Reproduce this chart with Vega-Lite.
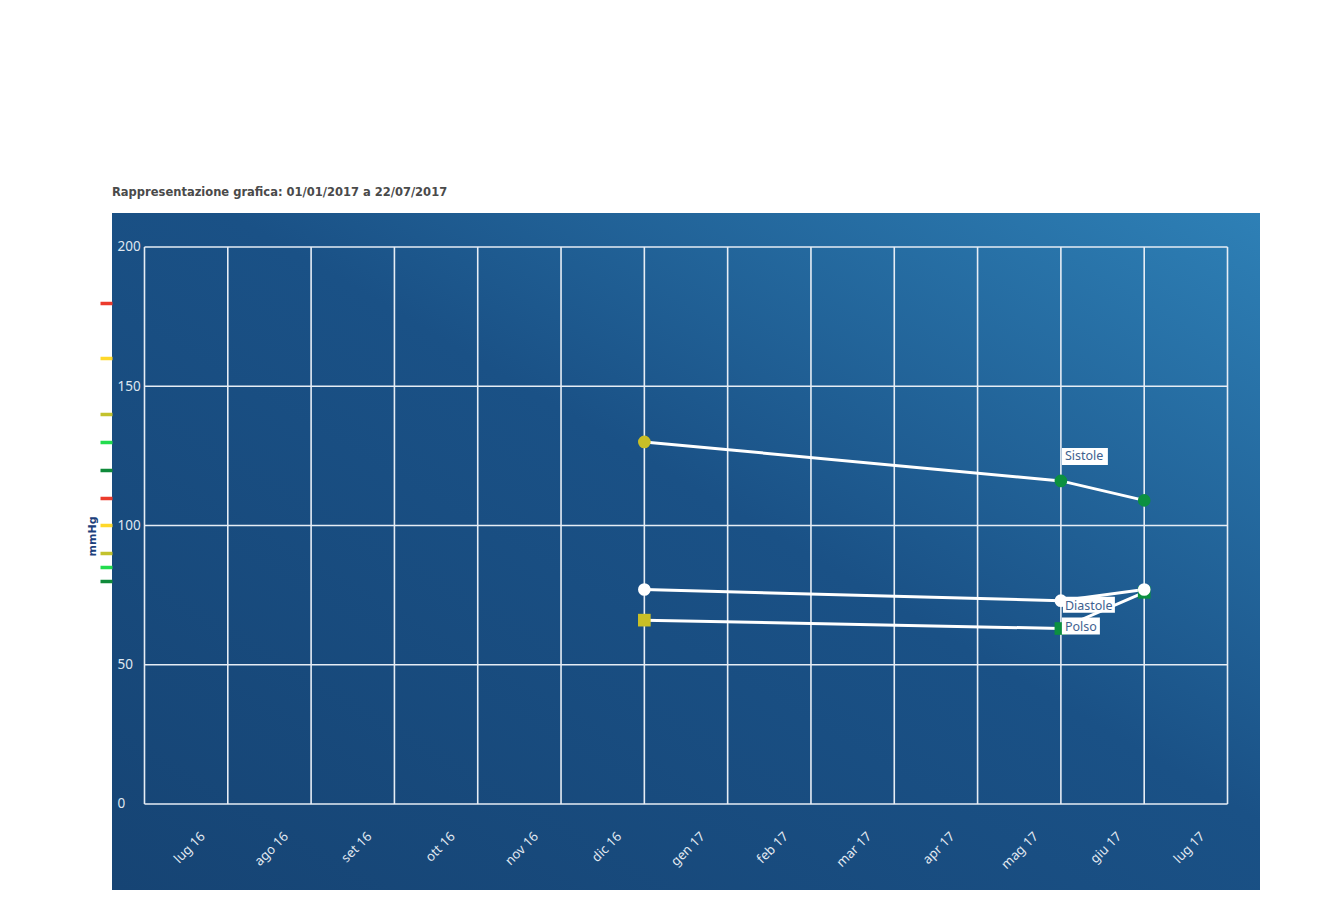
{
  "$schema": "https://vega.github.io/schema/vega-lite/v6.json",
  "width": 1148,
  "height": 677,
  "autosize": {"type": "none"},
  "padding": {"left": 112, "top": 213, "right": 78, "bottom": 24},
  "background": "#ffffff",
  "title": {
    "text": "Rappresentazione grafica: 01/01/2017 a 22/07/2017",
    "anchor": "start",
    "frame": "group",
    "font": "DejaVu Sans",
    "fontSize": 11.5,
    "fontWeight": "bold",
    "color": "#4a4a4a",
    "baseline": "alphabetic",
    "offset": 6
  },
  "config": {
    "font": "Noto Sans",
    "view": {
      "fill": {
        "gradient": "linear",
        "x1": 0, "y1": 1, "x2": 1, "y2": 0,
        "stops": [
          {"offset": 0, "color": "#164474"},
          {"offset": 0.55, "color": "#1a5186"},
          {"offset": 1, "color": "#2e80b6"}
        ]
      },
      "stroke": null
    }
  },
  "datasets": {
    "misure": [
      {"mese": "gen 17", "serie": "Polso", "valore": 66, "fascia": "attenzione"},
      {"mese": "giu 17", "serie": "Polso", "valore": 63, "fascia": "normale"},
      {"mese": "lug 17", "serie": "Polso", "valore": 76, "fascia": "normale"},
      {"mese": "gen 17", "serie": "Sistole", "valore": 130, "fascia": "attenzione"},
      {"mese": "giu 17", "serie": "Sistole", "valore": 116, "fascia": "normale"},
      {"mese": "lug 17", "serie": "Sistole", "valore": 109, "fascia": "normale"},
      {"mese": "gen 17", "serie": "Diastole", "valore": 77, "fascia": "neutra"},
      {"mese": "giu 17", "serie": "Diastole", "valore": 73, "fascia": "neutra"},
      {"mese": "lug 17", "serie": "Diastole", "valore": 77, "fascia": "neutra"}
    ],
    "mesi": [
      {"mese": "lug 16"}, {"mese": "ago 16"}, {"mese": "set 16"}, {"mese": "ott 16"},
      {"mese": "nov 16"}, {"mese": "dic 16"}, {"mese": "gen 17"}, {"mese": "feb 17"},
      {"mese": "mar 17"}, {"mese": "apr 17"}, {"mese": "mag 17"}, {"mese": "giu 17"},
      {"mese": "lug 17"}, {"mese": "ago 17"}
    ],
    "livelli": [
      {"livello": 0}, {"livello": 50}, {"livello": 100}, {"livello": 150}, {"livello": 200}
    ]
  },
  "resolve": {"axis": {"y": "independent"}},
  "layer": [
    {
      "data": {"name": "livelli"},
      "mark": {"type": "rule", "color": "#e6edf5", "strokeWidth": 1.6},
      "encoding": {
        "y": {
          "field": "livello", "type": "quantitative",
          "scale": {"domain": [-30.9, 212.2], "nice": false, "zero": false},
          "axis": {
            "orient": "left", "offset": 0,
            "values": [180, 160, 140, 130, 120, 110, 100, 90, 85, 80],
            "labels": false, "domain": false, "grid": false,
            "ticks": true, "tickSize": 12, "tickWidth": 3.5,
            "tickColor": {
              "condition": [
                {"test": "datum.value == 180 || datum.value == 110", "value": "#ec3b2c"},
                {"test": "datum.value == 160 || datum.value == 100", "value": "#ffd82a"},
                {"test": "datum.value == 140 || datum.value == 90", "value": "#c3c22c"},
                {"test": "datum.value == 130 || datum.value == 85", "value": "#22dc4e"}
              ],
              "value": "#0f8a3a"
            },
            "title": "mmHg",
            "titleColor": "#1c3f7c",
            "titleFont": "DejaVu Sans",
            "titleFontSize": 11,
            "titleFontWeight": "bold",
            "titleAngle": -90,
            "titleAlign": "center",
            "titleBaseline": "middle",
            "titleX": -20,
            "titleY": 323
          }
        },
        "x": {
          "datum": "lug 16", "type": "ordinal",
          "scale": {"type": "point", "padding": 0.39, "domain": ["lug 16", "ago 16", "set 16", "ott 16", "nov 16", "dic 16", "gen 17", "feb 17", "mar 17", "apr 17", "mag 17", "giu 17", "lug 17", "ago 17"]},
          "axis": {
            "orient": "bottom", "offset": -86, "title": null,
            "values": ["lug 16", "ago 16", "set 16", "ott 16", "nov 16", "dic 16", "gen 17", "feb 17", "mar 17", "apr 17", "mag 17", "giu 17", "lug 17"],
            "domain": false, "ticks": false, "tickSize": 0, "grid": false,
            "labelAngle": -45, "labelAlign": "right", "labelBaseline": "middle",
            "labelOffset": 58, "labelPadding": 30,
            "labelColor": "#e3eaf2", "labelFontSize": 13
          }
        },
        "x2": {"datum": "ago 17"}
      }
    },
    {
      "data": {"name": "mesi"},
      "mark": {"type": "rule", "color": "#e6edf5", "strokeWidth": 1.6},
      "encoding": {
        "x": {
          "field": "mese", "type": "ordinal",
          "scale": {"type": "point", "padding": 0.39, "domain": ["lug 16", "ago 16", "set 16", "ott 16", "nov 16", "dic 16", "gen 17", "feb 17", "mar 17", "apr 17", "mag 17", "giu 17", "lug 17", "ago 17"]},
          "axis": {
            "orient": "bottom", "offset": -86, "title": null,
            "values": ["lug 16", "ago 16", "set 16", "ott 16", "nov 16", "dic 16", "gen 17", "feb 17", "mar 17", "apr 17", "mag 17", "giu 17", "lug 17"],
            "domain": false, "ticks": false, "tickSize": 0, "grid": false,
            "labelAngle": -45, "labelAlign": "right", "labelBaseline": "middle",
            "labelOffset": 58, "labelPadding": 30,
            "labelColor": "#e3eaf2", "labelFontSize": 13
          }
        },
        "y": {
          "datum": 0, "type": "quantitative",
          "scale": {"domain": [-30.9, 212.2], "nice": false, "zero": false},
          "axis": {
            "orient": "left", "offset": -33, "title": null,
            "values": [0, 50, 100, 150, 200],
            "domain": false, "ticks": false, "tickSize": 0, "grid": false,
            "labelAlign": "left", "labelBaseline": "middle", "labelPadding": 28,
            "labelColor": "#dfe7f0", "labelFontSize": 13.5
          }
        },
        "y2": {"datum": 200}
      }
    },
    {
      "data": {"name": "misure"},
      "mark": {"type": "line", "color": "#ffffff", "strokeWidth": 3},
      "encoding": {
        "x": {"field": "mese", "type": "ordinal", "scale": {"type": "point", "padding": 0.39, "domain": ["lug 16", "ago 16", "set 16", "ott 16", "nov 16", "dic 16", "gen 17", "feb 17", "mar 17", "apr 17", "mag 17", "giu 17", "lug 17", "ago 17"]}, "sort": ["lug 16", "ago 16", "set 16", "ott 16", "nov 16", "dic 16", "gen 17", "feb 17", "mar 17", "apr 17", "mag 17", "giu 17", "lug 17", "ago 17"], "axis": {"orient": "bottom", "offset": -86, "title": null, "values": ["lug 16", "ago 16", "set 16", "ott 16", "nov 16", "dic 16", "gen 17", "feb 17", "mar 17", "apr 17", "mag 17", "giu 17", "lug 17"], "domain": false, "ticks": false, "tickSize": 0, "grid": false, "labelAngle": -45, "labelAlign": "right", "labelBaseline": "middle", "labelOffset": 58, "labelPadding": 30, "labelColor": "#e3eaf2", "labelFontSize": 13}},
        "y": {"field": "valore", "type": "quantitative", "scale": {"domain": [-30.9, 212.2], "nice": false, "zero": false}, "axis": null},
        "detail": {"field": "serie", "type": "nominal"}
      }
    },
    {
      "data": {"name": "misure"},
      "mark": {"type": "point", "filled": true, "opacity": 1, "strokeWidth": 0},
      "encoding": {
        "x": {"field": "mese", "type": "ordinal", "scale": {"type": "point", "padding": 0.39, "domain": ["lug 16", "ago 16", "set 16", "ott 16", "nov 16", "dic 16", "gen 17", "feb 17", "mar 17", "apr 17", "mag 17", "giu 17", "lug 17", "ago 17"]}, "axis": {"orient": "bottom", "offset": -86, "title": null, "values": ["lug 16", "ago 16", "set 16", "ott 16", "nov 16", "dic 16", "gen 17", "feb 17", "mar 17", "apr 17", "mag 17", "giu 17", "lug 17"], "domain": false, "ticks": false, "tickSize": 0, "grid": false, "labelAngle": -45, "labelAlign": "right", "labelBaseline": "middle", "labelOffset": 58, "labelPadding": 30, "labelColor": "#e3eaf2", "labelFontSize": 13}},
        "y": {"field": "valore", "type": "quantitative", "scale": {"domain": [-30.9, 212.2], "nice": false, "zero": false}, "axis": null},
        "shape": {"field": "serie", "type": "nominal", "scale": {"domain": ["Sistole", "Diastole", "Polso"], "range": ["circle", "circle", "square"]}, "legend": null},
        "size": {"field": "serie", "type": "nominal", "scale": {"domain": ["Sistole", "Diastole", "Polso"], "range": [160, 160, 125]}, "legend": null},
        "color": {"field": "fascia", "type": "nominal", "scale": {"domain": ["attenzione", "normale", "neutra"], "range": ["#c9bf26", "#0c9040", "#ffffff"]}, "legend": null}
      }
    },
    {
      "data": {"name": "misure"},
      "transform": [{"filter": "datum.serie == 'Sistole' && datum.mese == 'giu 17'"}],
      "mark": {"type": "rect", "color": "#ffffff", "width": 46, "height": 17, "xOffset": 24, "yOffset": -24.5},
      "encoding": {
        "x": {"field": "mese", "type": "ordinal", "scale": {"type": "point", "padding": 0.39, "domain": ["lug 16", "ago 16", "set 16", "ott 16", "nov 16", "dic 16", "gen 17", "feb 17", "mar 17", "apr 17", "mag 17", "giu 17", "lug 17", "ago 17"]}, "axis": {"orient": "bottom", "offset": -86, "title": null, "values": ["lug 16", "ago 16", "set 16", "ott 16", "nov 16", "dic 16", "gen 17", "feb 17", "mar 17", "apr 17", "mag 17", "giu 17", "lug 17"], "domain": false, "ticks": false, "tickSize": 0, "grid": false, "labelAngle": -45, "labelAlign": "right", "labelBaseline": "middle", "labelOffset": 58, "labelPadding": 30, "labelColor": "#e3eaf2", "labelFontSize": 13}},
        "y": {"field": "valore", "type": "quantitative", "scale": {"domain": [-30.9, 212.2], "nice": false, "zero": false}, "axis": null}
      }
    },
    {
      "data": {"name": "misure"},
      "transform": [{"filter": "datum.serie == 'Sistole' && datum.mese == 'giu 17'"}],
      "mark": {"type": "text", "color": "#3f6290", "fontSize": 12.5, "align": "left", "baseline": "middle", "dx": 4, "dy": -25},
      "encoding": {
        "x": {"field": "mese", "type": "ordinal", "scale": {"type": "point", "padding": 0.39, "domain": ["lug 16", "ago 16", "set 16", "ott 16", "nov 16", "dic 16", "gen 17", "feb 17", "mar 17", "apr 17", "mag 17", "giu 17", "lug 17", "ago 17"]}, "axis": {"orient": "bottom", "offset": -86, "title": null, "values": ["lug 16", "ago 16", "set 16", "ott 16", "nov 16", "dic 16", "gen 17", "feb 17", "mar 17", "apr 17", "mag 17", "giu 17", "lug 17"], "domain": false, "ticks": false, "tickSize": 0, "grid": false, "labelAngle": -45, "labelAlign": "right", "labelBaseline": "middle", "labelOffset": 58, "labelPadding": 30, "labelColor": "#e3eaf2", "labelFontSize": 13}},
        "y": {"field": "valore", "type": "quantitative", "scale": {"domain": [-30.9, 212.2], "nice": false, "zero": false}, "axis": null},
        "text": {"field": "serie", "type": "nominal"}
      }
    },
    {
      "data": {"name": "misure"},
      "transform": [{"filter": "datum.serie == 'Diastole' && datum.mese == 'giu 17'"}],
      "mark": {"type": "rect", "color": "#ffffff", "width": 52, "height": 16, "xOffset": 28, "yOffset": 4},
      "encoding": {
        "x": {"field": "mese", "type": "ordinal", "scale": {"type": "point", "padding": 0.39, "domain": ["lug 16", "ago 16", "set 16", "ott 16", "nov 16", "dic 16", "gen 17", "feb 17", "mar 17", "apr 17", "mag 17", "giu 17", "lug 17", "ago 17"]}, "axis": {"orient": "bottom", "offset": -86, "title": null, "values": ["lug 16", "ago 16", "set 16", "ott 16", "nov 16", "dic 16", "gen 17", "feb 17", "mar 17", "apr 17", "mag 17", "giu 17", "lug 17"], "domain": false, "ticks": false, "tickSize": 0, "grid": false, "labelAngle": -45, "labelAlign": "right", "labelBaseline": "middle", "labelOffset": 58, "labelPadding": 30, "labelColor": "#e3eaf2", "labelFontSize": 13}},
        "y": {"field": "valore", "type": "quantitative", "scale": {"domain": [-30.9, 212.2], "nice": false, "zero": false}, "axis": null}
      }
    },
    {
      "data": {"name": "misure"},
      "transform": [{"filter": "datum.serie == 'Diastole' && datum.mese == 'giu 17'"}],
      "mark": {"type": "text", "color": "#3f6290", "fontSize": 12.5, "align": "left", "baseline": "middle", "dx": 4, "dy": 5},
      "encoding": {
        "x": {"field": "mese", "type": "ordinal", "scale": {"type": "point", "padding": 0.39, "domain": ["lug 16", "ago 16", "set 16", "ott 16", "nov 16", "dic 16", "gen 17", "feb 17", "mar 17", "apr 17", "mag 17", "giu 17", "lug 17", "ago 17"]}, "axis": {"orient": "bottom", "offset": -86, "title": null, "values": ["lug 16", "ago 16", "set 16", "ott 16", "nov 16", "dic 16", "gen 17", "feb 17", "mar 17", "apr 17", "mag 17", "giu 17", "lug 17"], "domain": false, "ticks": false, "tickSize": 0, "grid": false, "labelAngle": -45, "labelAlign": "right", "labelBaseline": "middle", "labelOffset": 58, "labelPadding": 30, "labelColor": "#e3eaf2", "labelFontSize": 13}},
        "y": {"field": "valore", "type": "quantitative", "scale": {"domain": [-30.9, 212.2], "nice": false, "zero": false}, "axis": null},
        "text": {"field": "serie", "type": "nominal"}
      }
    },
    {
      "data": {"name": "misure"},
      "transform": [{"filter": "datum.serie == 'Polso' && datum.mese == 'giu 17'"}],
      "mark": {"type": "rect", "color": "#ffffff", "width": 38, "height": 17, "xOffset": 20, "yOffset": -2.5},
      "encoding": {
        "x": {"field": "mese", "type": "ordinal", "scale": {"type": "point", "padding": 0.39, "domain": ["lug 16", "ago 16", "set 16", "ott 16", "nov 16", "dic 16", "gen 17", "feb 17", "mar 17", "apr 17", "mag 17", "giu 17", "lug 17", "ago 17"]}, "axis": {"orient": "bottom", "offset": -86, "title": null, "values": ["lug 16", "ago 16", "set 16", "ott 16", "nov 16", "dic 16", "gen 17", "feb 17", "mar 17", "apr 17", "mag 17", "giu 17", "lug 17"], "domain": false, "ticks": false, "tickSize": 0, "grid": false, "labelAngle": -45, "labelAlign": "right", "labelBaseline": "middle", "labelOffset": 58, "labelPadding": 30, "labelColor": "#e3eaf2", "labelFontSize": 13}},
        "y": {"field": "valore", "type": "quantitative", "scale": {"domain": [-30.9, 212.2], "nice": false, "zero": false}, "axis": null}
      }
    },
    {
      "data": {"name": "misure"},
      "transform": [{"filter": "datum.serie == 'Polso' && datum.mese == 'giu 17'"}],
      "mark": {"type": "text", "color": "#3f6290", "fontSize": 12.5, "align": "left", "baseline": "middle", "dx": 4, "dy": -2},
      "encoding": {
        "x": {"field": "mese", "type": "ordinal", "scale": {"type": "point", "padding": 0.39, "domain": ["lug 16", "ago 16", "set 16", "ott 16", "nov 16", "dic 16", "gen 17", "feb 17", "mar 17", "apr 17", "mag 17", "giu 17", "lug 17", "ago 17"]}, "axis": {"orient": "bottom", "offset": -86, "title": null, "values": ["lug 16", "ago 16", "set 16", "ott 16", "nov 16", "dic 16", "gen 17", "feb 17", "mar 17", "apr 17", "mag 17", "giu 17", "lug 17"], "domain": false, "ticks": false, "tickSize": 0, "grid": false, "labelAngle": -45, "labelAlign": "right", "labelBaseline": "middle", "labelOffset": 58, "labelPadding": 30, "labelColor": "#e3eaf2", "labelFontSize": 13}},
        "y": {"field": "valore", "type": "quantitative", "scale": {"domain": [-30.9, 212.2], "nice": false, "zero": false}, "axis": null},
        "text": {"field": "serie", "type": "nominal"}
      }
    }
  ]
}
